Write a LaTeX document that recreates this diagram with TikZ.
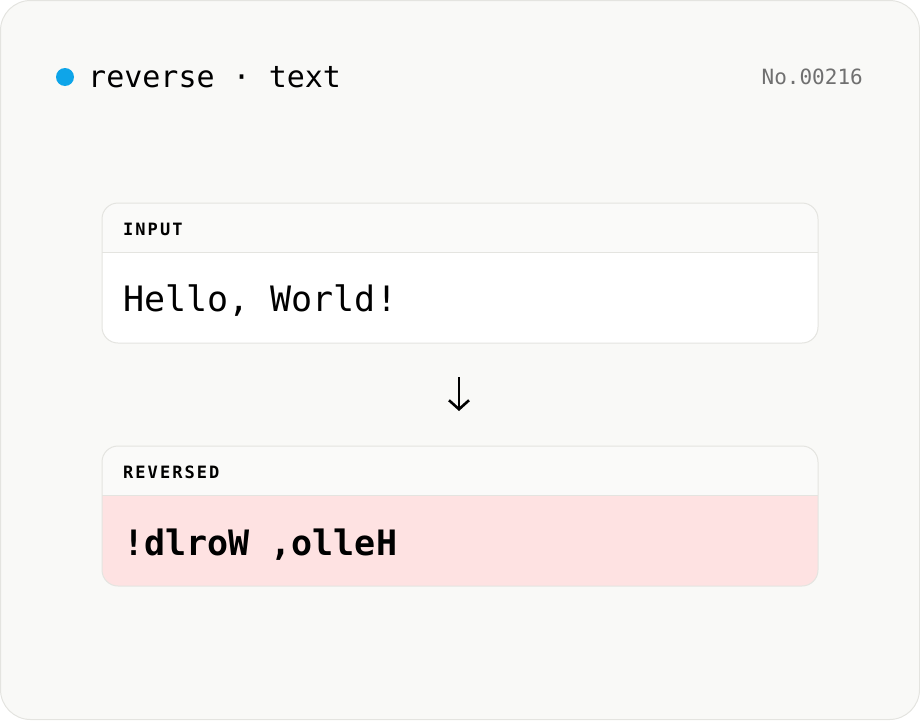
\documentclass[tikz,border=0pt]{standalone}
\usepackage{fontspec}
\setmonofont{DejaVu Sans Mono}
\usetikzlibrary{arrows.meta}
\definecolor{cardbg}{HTML}{F9F9F7}
\definecolor{cardline}{HTML}{E4E4E0}
\definecolor{dotblue}{HTML}{0EA5E9}
\definecolor{headbg}{HTML}{FAFAF9}
\definecolor{outbg}{HTML}{FEE2E2}
\definecolor{numgray}{HTML}{707070}
\tikzset{
  boxline/.style={draw=cardline, line width=1pt},
  headlabel/.style={anchor=base west, font=\ttfamily\bfseries\fontsize{17}{20}\selectfont\addfontfeature{LetterSpace=12}},
  bodytext/.style={anchor=base west, font=\ttfamily\fontsize{35}{40}\selectfont},
}
\begin{document}
\begin{tikzpicture}[x=1pt, y=-1pt]
\useasboundingbox (0,0) rectangle (920,720);
% card
\draw[boxline, fill=cardbg, rounded corners=30] (0.5,0.5) rectangle (919.5,719.5);
% title row
\fill[dotblue] (65,77) circle[radius=9];
\node[anchor=base west, inner sep=0, font=\ttfamily\fontsize{30}{34}\selectfont] (title) at (88,87) {reverse · text};
\node[anchor=base east, inner sep=0, text=numgray, font=\ttfamily\fontsize{21}{24}\selectfont] (num) at (863,84) {No.00216};
% input box
\begin{scope}
\clip[rounded corners=16] (102,203) rectangle (818,343);
\fill[headbg] (102,203) rectangle (818,252);
\fill[white] (102,252) rectangle (818,343);
\end{scope}
\draw[boxline] (102,252) -- (818,252);
\draw[boxline, rounded corners=16] (102,203) rectangle (818,343);
\node[headlabel, inner sep=0] (inlabel) at (123,235) {INPUT};
\node[bodytext, inner sep=0] (intext) at (123,311) {Hello, World!};
% arrow
\coordinate (a1) at (459,377);
\coordinate (a2) at (459,411);
\draw[line width=2.6pt, -{Straight Barb[length=9pt, width=20pt]}] (a1) -- (a2);
% output box
\begin{scope}
\clip[rounded corners=16] (102,446) rectangle (818,586);
\fill[headbg] (102,446) rectangle (818,495);
\fill[outbg] (102,495) rectangle (818,586);
\end{scope}
\draw[boxline] (102,495) -- (818,495);
\draw[boxline, rounded corners=16] (102,446) rectangle (818,586);
\node[headlabel, inner sep=0] (outlabel) at (123,478) {REVERSED};
\node[bodytext, inner sep=0, font=\ttfamily\bfseries\fontsize{35}{40}\selectfont] (outtext) at (123,555) {!dlroW ,olleH};
\end{tikzpicture}
\end{document}
